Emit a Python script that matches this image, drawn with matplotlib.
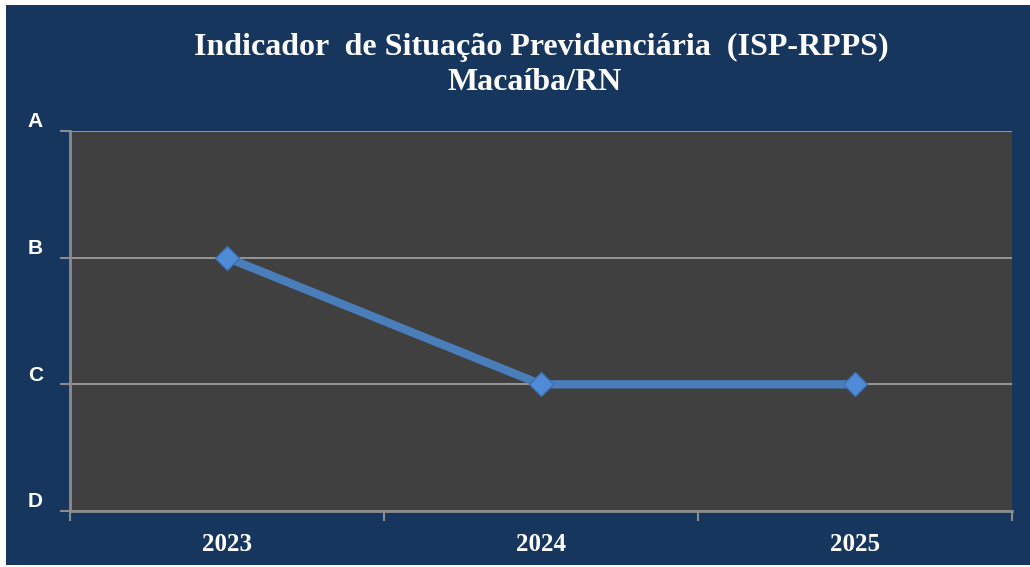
import matplotlib
matplotlib.use("Agg")
import matplotlib.pyplot as plt
import matplotlib.transforms as mtransforms
from matplotlib.patches import Rectangle

years = ["2023", "2024", "2025"]
grades = ["B", "C", "C"]
grade_labels = ["D", "C", "B", "A"]  # bottom to top

navy = "#17365D"
plot_bg = "#404040"
line_col = "#4A7EBB"

W, H = 1030, 567
fig = plt.figure(figsize=(W / 100, H / 100), dpi=100, facecolor="white")
bg = Rectangle((6 / W, 2 / H), 1 - 6 / W, 1 - 7 / H,
               transform=fig.transFigure, facecolor=navy,
               edgecolor="none", zorder=-10)
fig.add_artist(bg)

ax = fig.add_axes([70 / W, 56 / H, (1012 - 70) / W, (511 - 131) / H])
ax.set_facecolor(plot_bg)

xs = list(range(len(years)))
ys = [grade_labels.index(g) for g in grades]
ax.plot(xs, ys, color=line_col, lw=6, marker="D", markersize=12,
        markerfacecolor="#4F8BD6", markeredgecolor="#3D6FB0",
        markeredgewidth=1, solid_capstyle="butt", zorder=3)

ax.set_xlim(-0.5, len(years) - 0.5)
ax.set_ylim(0, len(grade_labels) - 1)

# category boundaries as ticks, labels centered
ax.set_xticks([i - 0.5 for i in range(len(years) + 1)])
ax.set_xticklabels([])
ax.set_xticks(xs, minor=True)
ax.set_xticklabels(years, minor=True, fontfamily="Liberation Serif",
                   fontweight="bold", fontsize=18, color="white")
ax.tick_params(axis="x", which="minor", length=0, pad=16)
ax.tick_params(axis="x", which="major", length=7, width=1.5, color="#8C8C8C")

ax.set_yticks(range(len(grade_labels)))
ax.set_yticklabels(grade_labels, fontfamily="Liberation Sans",
                   fontweight="bold", fontsize=15, color="white")
ax.tick_params(axis="y", length=7, width=1.5, color="#8C8C8C", pad=18)
offset = mtransforms.ScaledTranslation(0, 8 / 72, fig.dpi_scale_trans)
for lbl in ax.get_yticklabels():
    lbl.set_horizontalalignment("center")
    lbl.set_transform(lbl.get_transform() + offset)

fig.text(541 / W, 1 - 47 / H, "Indicador  de Situação Previdenciária  (ISP-RPPS)",
         ha="center", va="center", fontfamily="Liberation Serif",
         fontweight="bold", fontsize=23, color="white")
fig.text(535 / W, 1 - 83 / H, "Macaíba/RN",
         ha="center", va="center", fontfamily="Liberation Serif",
         fontweight="bold", fontsize=23, color="white")

ax.grid(axis="y", color="#A6A6A6", lw=1.2)
ax.set_axisbelow(True)
for s in ["top", "right"]:
    ax.spines[s].set_visible(False)
for s in ["left", "bottom"]:
    ax.spines[s].set_color("#8C8C8C")
    ax.spines[s].set_linewidth(2)

fig.savefig("out.png", dpi=100, facecolor=fig.get_facecolor())
